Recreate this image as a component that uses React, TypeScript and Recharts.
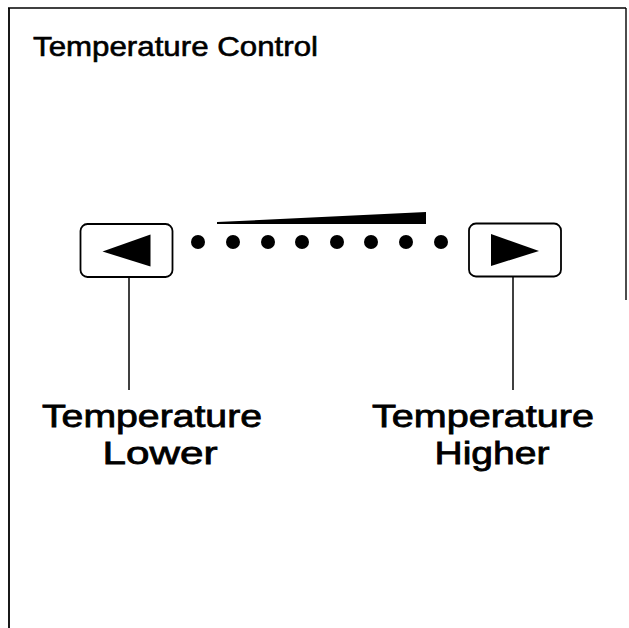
import React from 'react';
import { ComposedChart, XAxis, YAxis, Scatter, Area, ReferenceLine } from 'recharts';

// Canvas units: x 0..629 left→right, y 0..628 top→bottom
const CHART_W = 629;
const CHART_H = 628;

// Temperature level indicator dots (8 steps)
const levelDotX = [198, 233, 268, 302, 337, 371, 406, 441];
const levelDotY = [242, 242, 242, 242, 242, 242, 242, 242];

// Rising wedge above the dots
const wedgeX = [217, 426];
const wedgeBase = [224, 224];
const wedgeTop = [222, 212];

// Buttons
const buttonX = [126.5, 515];
const buttonY = [250.5, 250];
const buttonDir = ['left', 'right'];

// Leader lines from buttons to labels
const leaderX = [129, 513];
const leaderTop = [266, 266];
const leaderBottom = [390, 390];

// Texts
const titleText = 'Temperature Control';
const labelLines = ['Temperature', 'Lower', 'Temperature', 'Higher'];
const labelX = [152, 160, 483, 492];
const labelY = [427, 464, 427, 464];
const labelWidth = [220, 115, 222, 115];

const FONT = '"Liberation Sans", Arial, Helvetica, sans-serif';

const wedgeData = wedgeX.map((x, i) => ({ x, wedge: [wedgeBase[i], wedgeTop[i]] }));
const dotData = levelDotX.map((x, i) => ({ x, y: levelDotY[i] }));
const buttonData = buttonX.map((x, i) => ({ x, y: buttonY[i], dir: buttonDir[i] }));
const titleData = [{ x: 33, y: 56, text: titleText, w: 285 }];
const labelData = labelLines.map((text, i) => ({ x: labelX[i], y: labelY[i], text, w: labelWidth[i] }));

const DotShape = (p: any) => <circle cx={p.cx} cy={p.cy} r={7} fill="#000" />;

const ButtonShape = (p: any) => {
  const { cx, cy, payload } = p;
  const left = payload.dir === 'left';
  const pts = left
    ? `${cx - 24},${cy + 1} ${cx + 24},${cy - 16} ${cx + 24},${cy + 16}`
    : `${cx + 24},${cy + 1} ${cx - 24},${cy - 16} ${cx - 24},${cy + 16}`;
  return (
    <g>
      <rect x={cx - 46} y={cy - 26.5} width={92} height={53} rx={7} ry={7} fill="#fff" stroke="#000" strokeWidth={1.8} />
      <polygon points={pts} fill="#000" />
    </g>
  );
};

const TitleShape = (p: any) => (
  <text
    x={p.cx}
    y={p.cy}
    fontFamily={FONT}
    fontSize={28}
    fill="#000"
    stroke="#000"
    strokeWidth={0.6}
    textLength={p.payload.w}
    lengthAdjust="spacingAndGlyphs"
  >
    {p.payload.text}
  </text>
);

const LabelShape = (p: any) => (
  <text
    x={p.cx}
    y={p.cy}
    fontFamily={FONT}
    fontSize={32}
    fill="#000"
    stroke="#000"
    strokeWidth={0.8}
    textAnchor="middle"
    textLength={p.payload.w}
    lengthAdjust="spacingAndGlyphs"
  >
    {p.payload.text}
  </text>
);

export default function App() {
  return (
    <div style={{ position: 'absolute', left: 0, top: 0, background: '#fff' }}>
      <ComposedChart
        width={CHART_W}
        height={CHART_H}
        data={wedgeData}
        margin={{ top: 0, right: 0, bottom: 0, left: 0 }}
        style={{ background: '#fff' }}
      >
        <XAxis type="number" dataKey="x" domain={[0, CHART_W]} hide allowDataOverflow />
        <YAxis type="number" dataKey="y" domain={[0, CHART_H]} reversed hide allowDataOverflow />

        {/* frame */}
        <ReferenceLine segment={[{ x: 8, y: 8 }, { x: 626, y: 8 }]} stroke="#000" strokeWidth={1.6} ifOverflow="visible" />
        <ReferenceLine segment={[{ x: 9, y: 8 }, { x: 9, y: 628 }]} stroke="#000" strokeWidth={1.8} ifOverflow="visible" />
        <ReferenceLine segment={[{ x: 626, y: 8 }, { x: 626, y: 300 }]} stroke="#000" strokeWidth={1.4} ifOverflow="visible" />

        {/* leader lines */}
        {leaderX.map((x, i) => (
          <ReferenceLine
            key={'ld' + i}
            segment={[{ x, y: leaderTop[i] }, { x, y: leaderBottom[i] }]}
            stroke="#000"
            strokeWidth={1.5}
            ifOverflow="visible"
          />
        ))}

        <Area
          type="linear"
          dataKey="wedge"
          fill="#000"
          fillOpacity={1}
          stroke="none"
          isAnimationActive={false}
          dot={false}
          activeDot={false}
        />

        <Scatter data={dotData} shape={DotShape} isAnimationActive={false} />
        <Scatter data={buttonData} shape={ButtonShape} isAnimationActive={false} />
        <Scatter data={titleData} shape={TitleShape} isAnimationActive={false} />
        <Scatter data={labelData} shape={LabelShape} isAnimationActive={false} />
      </ComposedChart>
    </div>
  );
}
